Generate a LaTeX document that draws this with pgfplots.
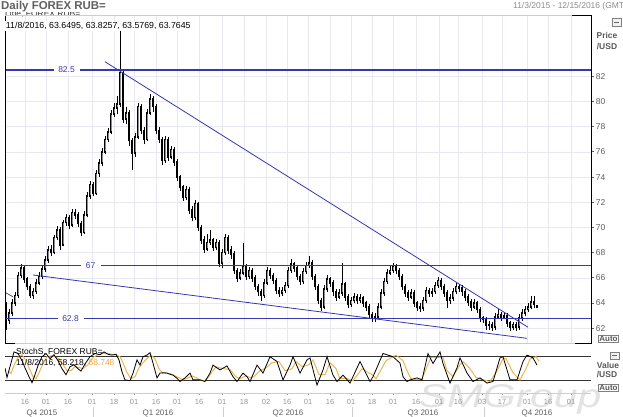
\documentclass[border=0pt]{standalone}
\usepackage{pgfplots}
\usepackage{pgfplotstable}
\pgfplotsset{compat=1.18}
\usepackage{fontspec}
\setmainfont{Liberation Sans}
\definecolor{lvl}{RGB}{55,55,175}
\definecolor{orng}{RGB}{236,182,84}
\definecolor{orngtxt}{RGB}{240,165,70}
\definecolor{txtgray}{RGB}{95,95,95}
\definecolor{lightgray}{RGB}{150,150,150}
\definecolor{gridc}{RGB}{232,232,240}
\definecolor{framec}{RGB}{205,205,205}
\newcommand\tk{\textcolor{txtgray}{\rule[2.8bp]{3bp}{0.6bp}}\hspace{1.6bp}}

\pgfplotstableread{
x o h l c
6 63.8 64.1 61.9 62.6
9 62.6 63.5 62.3 63.2
12 63.2 64.3 63.0 64.0
15 64.0 64.9 63.8 64.6
18 64.6 66.5 64.4 66.2
21 66.2 67.1 66.0 66.8
24 66.8 67.0 65.6 65.9
27 65.9 66.1 65.0 65.3
30 65.3 65.5 64.4 64.6
33 64.6 65.2 64.3 64.9
36 64.9 65.9 64.7 65.6
39 65.6 66.5 65.4 66.1
42 66.1 67.0 65.9 66.7
45 66.7 67.7 66.5 67.4
48 67.4 68.5 67.2 68.2
51 68.2 68.6 67.7 68.0
54 68.0 69.4 67.9 69.2
57 69.2 70.1 69.0 69.8
60 69.8 70.0 68.2 68.6
63 68.6 70.6 68.5 70.4
66 70.4 71.1 70.1 70.8
69 70.8 71.0 69.9 70.2
72 70.2 71.5 70.0 71.2
75 71.2 71.5 70.7 71.0
78 71.0 71.2 70.0 70.3
81 70.3 70.5 69.3 69.6
84 69.6 71.3 69.5 71.0
87 71.0 72.8 70.8 72.5
90 72.5 73.7 72.3 73.4
93 73.4 73.6 72.5 72.7
96 72.7 74.6 72.6 74.3
99 74.3 75.4 74.0 75.1
102 75.1 76.3 74.9 76.0
105 76.0 77.3 75.8 77.0
108 77.0 77.9 76.8 77.6
111 77.6 79.3 77.4 79.0
114 79.0 79.9 78.8 79.5
117 79.5 80.4 79.0 79.8
120 79.8 86.0 79.6 82.3
123 82.3 82.5 78.3 78.6
126 78.6 79.6 78.2 79.1
129 79.1 79.3 76.5 76.9
132 76.9 77.1 74.6 75.9
135 75.9 77.5 75.6 77.2
138 77.2 79.9 77.0 79.6
141 79.6 79.8 77.4 77.7
144 77.7 78.0 76.6 77.0
147 77.0 79.4 76.9 79.1
150 79.1 80.6 78.9 80.2
153 80.2 80.4 79.2 79.6
156 79.6 79.8 77.4 77.7
159 77.7 78.0 76.7 77.0
162 77.0 77.2 75.0 75.3
165 75.3 77.3 75.1 77.0
168 77.0 77.2 75.3 75.6
171 75.6 76.5 75.4 76.2
174 76.2 76.4 74.9 75.2
177 75.2 75.4 73.7 74.0
180 74.0 74.2 72.9 73.2
183 73.2 73.4 72.1 72.4
186 72.4 73.3 72.2 73.0
189 73.0 73.2 71.1 71.4
192 71.4 71.7 70.5 70.8
195 70.8 72.2 70.6 71.9
198 71.9 72.0 69.7 70.0
201 70.0 70.2 68.7 69.0
204 69.0 69.3 68.0 68.3
207 68.3 69.5 68.1 68.8
210 68.8 69.8 68.6 69.0
213 69.0 69.2 68.1 68.4
216 68.4 69.1 68.2 68.8
219 68.8 69.0 66.9 67.2
222 67.2 68.3 66.8 68.0
225 68.0 69.5 67.8 69.2
228 69.2 69.4 67.9 68.2
231 68.2 68.5 67.5 67.9
234 67.9 68.1 66.3 66.6
237 66.6 66.8 65.7 66.0
240 66.0 66.7 65.8 66.4
243 66.4 68.8 66.2 66.9
246 66.9 67.1 65.8 66.1
249 66.1 66.9 65.9 66.6
252 66.6 66.8 65.7 66.0
255 66.0 66.2 65.0 65.3
258 65.3 65.5 64.6 64.9
261 64.9 65.1 64.2 64.6
264 64.6 65.9 64.4 65.6
267 65.6 66.9 65.4 66.6
270 66.6 66.8 65.9 66.2
273 66.2 66.4 65.5 65.8
276 65.8 66.0 64.7 65.0
279 65.0 65.3 64.5 64.8
282 64.8 65.3 64.6 65.0
285 65.0 65.7 64.8 65.4
288 65.4 66.9 65.2 66.6
291 66.6 67.5 66.4 67.1
294 67.1 67.3 66.5 66.8
297 66.8 67.0 65.8 66.1
300 66.1 66.3 65.4 65.7
303 65.7 66.8 65.5 66.5
306 66.5 67.3 66.3 67.0
309 67.0 67.7 66.8 67.2
312 67.2 67.4 65.8 66.1
315 66.1 66.3 65.0 65.3
318 65.3 65.5 63.9 64.2
321 64.2 64.4 63.4 63.7
324 63.7 65.4 63.5 65.1
327 65.1 66.2 64.9 65.9
330 65.9 66.1 65.3 65.6
333 65.6 65.8 64.6 64.9
336 64.9 65.1 64.2 64.5
339 64.5 65.1 64.3 64.8
342 64.8 67.2 64.6 65.5
345 65.5 65.7 64.2 64.5
348 64.5 64.7 63.6 63.9
351 63.9 64.5 63.7 64.2
354 64.2 64.8 64.0 64.5
357 64.5 64.7 63.9 64.2
360 64.2 64.7 64.0 64.4
363 64.4 64.6 63.7 64.0
366 64.0 64.2 63.4 63.7
369 63.7 63.9 62.8 63.1
372 63.1 63.3 62.5 62.8
375 62.8 63.2 62.5 62.9
378 62.9 64.0 62.7 63.7
381 63.7 65.1 63.5 64.8
384 64.8 66.0 64.6 65.7
387 65.7 66.7 65.5 66.4
390 66.4 67.0 66.2 66.6
393 66.6 67.2 66.4 66.9
396 66.9 67.1 66.3 66.6
399 66.6 66.8 65.8 66.1
402 66.1 66.3 65.0 65.3
405 65.3 65.5 64.5 64.8
408 64.8 65.0 64.2 64.5
411 64.5 65.1 64.3 64.8
414 64.8 65.0 63.7 64.0
417 64.0 64.2 63.4 63.7
420 63.7 64.0 63.3 63.6
423 63.6 64.5 63.4 64.2
426 64.2 65.3 64.0 65.0
429 65.0 65.2 64.5 64.8
432 64.8 65.2 64.5 64.9
435 64.9 65.7 64.7 65.4
438 65.4 66.1 65.2 65.8
441 65.8 66.0 65.0 65.3
444 65.3 65.5 64.5 64.8
447 64.8 65.0 63.6 64.2
450 64.2 64.7 63.9 64.4
453 64.4 65.2 64.2 64.9
456 64.9 65.6 64.7 65.3
459 65.3 65.5 64.9 65.2
462 65.2 65.4 64.6 64.9
465 64.9 65.1 64.2 64.5
468 64.5 64.7 63.8 64.1
471 64.1 64.3 63.4 63.7
474 63.7 64.3 63.5 64.0
477 64.0 64.2 63.2 63.5
480 63.5 63.7 62.5 62.8
483 62.8 63.0 62.4 62.7
486 62.7 62.9 61.9 62.2
489 62.2 62.6 61.9 62.3
492 62.3 62.5 61.8 62.1
495 62.1 63.2 61.9 62.9
498 62.9 63.5 62.7 63.1
501 63.1 63.3 62.6 62.9
504 62.9 63.3 62.7 63.0
507 63.0 63.2 62.1 62.4
510 62.4 62.6 61.8 62.1
513 62.1 62.5 61.9 62.3
516 62.3 62.5 61.8 62.1
519 62.1 63.1 61.9 62.8
522 62.8 63.5 62.6 63.2
525 63.2 63.8 63.0 63.5
528 63.5 64.0 63.3 63.7
531 63.7 64.6 63.5 64.1
534 64.1 64.6 63.6 63.9
537 63.65 63.83 63.58 63.76
}\candles

\begin{document}
\begin{tikzpicture}
\useasboundingbox (0,0) rectangle (623bp,417bp);
\fill[white] (0,0) rectangle (623bp,417bp);
% watermark
\node[text=black!11, font=\fontsize{33}{33}\selectfont\itshape, xscale=1.3, anchor=base west] at (414bp,10bp) {SMGroup};

% ---------- main price panel ----------
\begin{axis}[
  at={(5bp,74bp)}, anchor=south west,
  width=586bp, height=328bp, scale only axis,
  xmin=5, xmax=591, ymin=60.83, ymax=86.87,
  axis line style={draw=none},
  xtick={25,46,68,92,114,134,156,177,199,222,244,266,287,308,330,351,372,393,416,439,458,482,502,527,548,571},
  xticklabels={},
  ytick={62,64,66,68,70,72,74,76,78,80,82},
  yticklabels={\tk62,\tk64,\tk66,\tk68,\tk70,\tk72,\tk74,\tk76,\tk78,\tk80,\tk82},
  yticklabel pos=right,
  yticklabel style={anchor=west, inner sep=0pt, font=\fontsize{8.5}{9}\selectfont, text=txtgray},
  major tick length=0pt,
  grid=major, grid style={gridc, line width=0.6bp},
  clip mode=individual,
]
% wicks (low to high)
\addplot[black, line width=0.7bp, -, quiver={u=0, v={\thisrow{h}-\thisrow{l}}}]
  table[x=x, y=l] {\candles};
% bodies (open to close)
\addplot[black, line width=2.6bp, -, quiver={u=0, v={abs(\thisrow{c}-\thisrow{o})+0.12}}]
  table[x=x, y expr={min(\thisrow{o},\thisrow{c})-0.06}] {\candles};
% lighter core of rising candles
\addplot[black!45, line width=1.0bp, -, quiver={u=0, v={max(\thisrow{c}-\thisrow{o}-0.12,0)}}]
  table[x=x, y expr={\thisrow{o}+0.06}] {\candles};
% level lines
\addplot[lvl, line width=1.1bp] coordinates {(5,82.5) (591,82.5)};
\addplot[lvl, line width=1.1bp] coordinates {(5,67) (591,67)};
\addplot[lvl, line width=1.1bp] coordinates {(5,62.8) (591,62.8)};
% trend lines
\addplot[lvl, line width=0.8bp] coordinates {(105,83.16) (528,62.08)};
\addplot[lvl, line width=0.8bp] coordinates {(33,66.23) (527,61.2)};
\addplot[lvl!60!black, line width=0.6bp] coordinates {(5,64.85) (13,64.5)};
% last price marker
\addplot[only marks, mark=diamond*, mark size=2.2bp, black] coordinates {(592,63.76)};
\node[fill=white, text=lvl, inner sep=1.2bp, minimum width=26bp, font=\fontsize{8.5}{9}\selectfont] at (axis cs:66.5,82.5) {82.5};
\node[fill=white, text=lvl, inner sep=1.2bp, minimum width=20bp, font=\fontsize{8.5}{9}\selectfont] at (axis cs:90.5,67) {67};
\node[fill=white, text=lvl, inner sep=1.2bp, minimum width=26bp, font=\fontsize{8.5}{9}\selectfont] at (axis cs:70.5,62.8) {62.8};
\end{axis}

% frame of main panel
\draw[framec, line width=0.6bp] (5bp,402bp) -- (591bp,402bp);
\draw[framec, line width=0.6bp] (5bp,74bp) -- (591bp,74bp);
\draw[black, line width=0.8bp] (5bp,402bp) -- (5bp,74bp) -- (15bp,74bp);
\draw[black, line width=0.8bp] (572bp,402bp) -- (591bp,402bp) -- (591bp,74bp) -- (575bp,74bp);

% ---------- stochastic panel ----------
\begin{axis}[
  at={(5bp,24bp)}, anchor=south west,
  width=586bp, height=49bp, scale only axis,
  xmin=5, xmax=591, ymin=-10.75, ymax=111.75,
  axis line style={draw=none},
  ytick=\empty,
  xtick={25,46,68,92,114,134,156,177,199,222,244,266,287,308,330,351,372,393,416,439,458,482,502,527,548,571},
  xticklabels={16,01,16,01,18,01,16,01,16,01,18,02,16,01,16,01,18,01,16,01,16,03,17,01,16,01},
  xtick pos=left, xtick align=outside, major tick length=2bp,
  tick style={lightgray, line width=0.5bp},
  xticklabel style={font=\fontsize{7.5}{8}\selectfont, text=lightgray, inner sep=1bp, yshift=-3.5bp},
]
\addplot[black!80, line width=1bp] coordinates {(5,80) (591,80)};
\addplot[black!80, line width=1bp] coordinates {(5,20) (591,20)};
\addplot[orng, line width=1bp] coordinates {
(8,45) (11,38) (14,58) (18,78) (22,85) (26,70) (29,52) (33,30) (36,25) (39,40) (43,62) (47,80) (51,82) (55,80) (59,75) (63,60) (67,45) (71,45) (75,55) (79,53) (83,50) (88,60) (93,78) (98,85) (103,88) (108,88) (112,86) (116,85) (120,80) (123,65) (127,40) (131,25) (135,30) (139,52) (143,65) (147,75) (151,84) (155,75) (159,50) (163,38) (167,39) (171,37) (175,32) (179,27) (183,22) (188,27) (192,32) (196,28) (200,22) (204,20) (208,27) (212,42) (216,55) (220,52) (224,50) (230,48) (236,30) (240,25) (246,32) (250,28) (254,30) (260,45) (266,52) (272,65) (279,68) (285,45) (292,50) (296,68) (302,55) (309,60) (313,72) (319,35) (325,35) (330,65) (336,50) (340,25) (346,26) (353,20) (362,50) (372,35) (376,25) (386,70) (396,84) (403,70) (407,45) (411,25) (416,23) (422,25) (427,55) (431,78) (436,78) (443,78) (447,45) (453,30) (460,60) (463,68) (470,50) (476,28) (483,22) (490,18) (496,40) (503,75) (506,75) (513,40) (520,22) (526,50) (530,74) (536,80) (539,68)};
\addplot[black, line width=0.8bp] coordinates {
(5,52) (7,28) (10,55) (14,92) (18,88) (22,70) (25,52) (29,30) (32,15) (35,35) (38,58) (42,80) (46,88) (50,75) (54,85) (58,70) (62,50) (66,35) (70,55) (74,60) (78,50) (81,44) (85,62) (90,80) (95,88) (100,85) (104,92) (108,86) (112,84) (116,86) (119,72) (122,42) (125,22) (130,20) (133,39) (137,72) (140,59) (143,80) (147,84) (150,90) (153,64) (157,27) (160,39) (164,40) (167,39) (170,36) (173,34) (177,26) (180,18) (185,27) (190,39) (193,22) (197,22) (200,22) (205,18) (210,39) (213,59) (217,52) (220,47) (227,57) (233,30) (237,18) (243,39) (247,30) (250,18) (257,59) (263,39) (270,80) (277,68) (283,22) (290,59) (293,80) (300,39) (307,72) (310,77) (317,9) (323,47) (327,80) (333,34) (337,18) (343,34) (350,14) (360,68) (370,18) (373,30) (383,88) (393,80) (400,64) (403,30) (407,18) (410,22) (417,27) (422,22) (428,88) (433,63) (440,92) (443,63) (450,14) (457,52) (460,77) (467,39) (473,18) (480,27) (487,14) (493,18) (500,77) (503,80) (510,22) (517,22) (523,68) (527,84) (533,77) (537,59)};
\end{axis}
\draw[framec, line width=0.6bp] (5bp,24bp) -- (591bp,24bp);

% quarter labels and separators
\foreach \xx in {93,223,352,484} \draw[framec, line width=0.6bp] (\xx bp,0bp) -- (\xx bp,10bp);
\begin{scope}[every node/.style={font=\fontsize{8}{9}\selectfont, text=txtgray}]
\node at (42bp,4bp) {Q4 2015};
\node at (158bp,4bp) {Q1 2016};
\node at (288bp,4bp) {Q2 2016};
\node at (423bp,4bp) {Q3 2016};
\node at (537bp,4bp) {Q4 2016};
\end{scope}

% texts in panels
\node[anchor=west, inner sep=0pt, font=\fontsize{8.5}{9}\selectfont, text=black!80] at (5bp,403bp) {Line, FOREX RUB=};
\fill[white] (0,404.5bp) rectangle (623bp,417bp);
\draw[framec, line width=0.6bp] (5bp,402bp) -- (572bp,402bp);
\node[anchor=west, fill=white, inner sep=0.8bp, font=\fontsize{8.8}{9}\selectfont] at (5bp,391bp) {11/8/2016, 63.6495, 63.8257, 63.5769, 63.7645};
\node[anchor=west, inner sep=0pt, font=\fontsize{8.5}{9}\selectfont] at (16bp,65.5bp) {StochS, FOREX RUB=};
\node[anchor=west, inner sep=0pt, font=\fontsize{8.5}{9}\selectfont] at (16bp,54bp) {11/8/2016, 58.218, \textcolor{orngtxt}{68.748}};

% header
\node[anchor=west, inner sep=0pt, font=\fontsize{11.5}{12}\selectfont\bfseries, text=black!62] at (1bp,410bp) {Daily FOREX RUB=};
\node[anchor=west, inner sep=0pt, font=\fontsize{8.5}{9}\selectfont, text=black!45] at (513bp,411bp) {11/3/2015 - 12/15/2016 (GMT)};

% right side labels
\begin{scope}[every node/.style={font=\fontsize{8.5}{9}\selectfont\bfseries, text=black!65, inner sep=0pt}]
\node at (607bp,382bp) {Price};
\node at (607bp,370bp) {/USD};
\node at (608bp,52bp) {Value};
\node at (607bp,42bp) {/USD};
\end{scope}
\node[draw=black!50, line width=0.5bp, inner sep=0.8bp, font=\fontsize{8}{9}\selectfont\bfseries, text=black!65] at (608.5bp,78.5bp) {Auto};
\node[draw=black!50, line width=0.5bp, inner sep=0.8bp, font=\fontsize{8}{9}\selectfont\bfseries, text=black!65] at (608.5bp,29bp) {Auto};
\draw[black!50, line width=0.5bp, fill=black!5] (612bp,391bp) rectangle (621bp,399bp);
\draw[black!60, line width=0.8bp] (614bp,395bp) -- (619bp,395bp);
\draw[black!50, line width=0.5bp, fill=black!5] (610bp,58bp) rectangle (619bp,65bp);
\draw[black!60, line width=0.8bp] (612bp,61.5bp) -- (617bp,61.5bp);
\end{tikzpicture}
\end{document}
